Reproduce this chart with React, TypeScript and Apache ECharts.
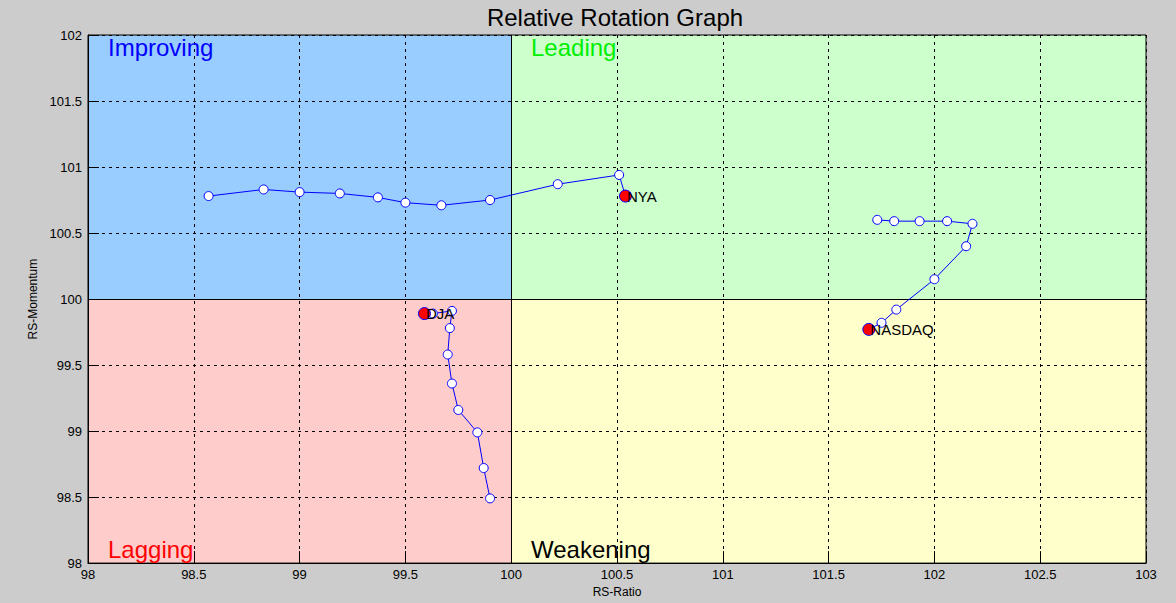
import React, { useEffect, useRef } from "react";
import * as echarts from "echarts";

const titleText = "Relative Rotation Graph";
const xAxisName = "RS-Ratio";
const yAxisName = "RS-Momentum";

const nyaRatio = [98.57, 98.83, 99.0, 99.19, 99.37, 99.5, 99.67, 99.9, 100.22, 100.51, 100.54];
const nyaMomentum = [100.78, 100.83, 100.81, 100.8, 100.77, 100.73, 100.71, 100.75, 100.87, 100.94, 100.78];

const nasdaqRatio = [101.73, 101.81, 101.93, 102.06, 102.18, 102.15, 102.0, 101.82, 101.75, 101.69];
const nasdaqMomentum = [100.6, 100.59, 100.59, 100.59, 100.57, 100.4, 100.15, 99.92, 99.82, 99.77];

const djaRatio = [99.9, 99.87, 99.84, 99.75, 99.72, 99.7, 99.71, 99.72, 99.63, 99.59];
const djaMomentum = [98.49, 98.72, 98.99, 99.16, 99.36, 99.58, 99.78, 99.91, 99.89, 99.89];

const seriesNames = ["NYA", "NASDAQ", "DJA"];

const FONT = "'Liberation Sans', Arial, sans-serif";

function buildSeries(name: string, xs: number[], ys: number[]) {
  const data = xs.map((x, i) => {
    if (i === xs.length - 1) {
      return {
        value: [x, ys[i]],
        symbolSize: 12,
        itemStyle: { color: "#ff0000", borderColor: "#0000ff", borderWidth: 1 },
        label: {
          show: true,
          formatter: name,
          position: "right",
          distance: -5,
          color: "#000",
          fontSize: 15,
          fontFamily: FONT,
        },
      };
    }
    return [x, ys[i]];
  });
  return {
    type: "line",
    name,
    data,
    z: 5,
    symbol: "circle",
    symbolSize: 9,
    showSymbol: true,
    lineStyle: { color: "#0000ff", width: 1 },
    itemStyle: { color: "#ffffff", borderColor: "#0000ff", borderWidth: 1 },
    emphasis: { disabled: true },
  };
}

export default function App() {
  const ref = useRef<HTMLDivElement>(null);
  useEffect(() => {
    if (!ref.current) return;
    const chart = echarts.init(ref.current, undefined, { renderer: "svg" });
    const quadStyle = (color: string) => ({ color, opacity: 1 });
    chart.setOption({
      animation: false,
      backgroundColor: "#cccccc",
      textStyle: { fontFamily: FONT },
      title: {
        text: titleText,
        left: 610,
        top: 0,
        textAlign: "center",
        textStyle: { fontSize: 24, fontWeight: "normal", color: "#000", fontFamily: FONT },
      },
      grid: {
        left: 88,
        top: 35,
        right: 30,
        bottom: 38,
        show: true,
        borderColor: "#000",
        borderWidth: 1,
        backgroundColor: "transparent",
      },
      xAxis: {
        type: "value",
        min: 98,
        max: 103,
        interval: 0.5,
        name: xAxisName,
        nameLocation: "middle",
        nameGap: 21,
        nameTextStyle: { fontSize: 12, color: "#000", fontFamily: FONT },
        axisLine: { show: true, lineStyle: { color: "#000", width: 1 } },
        axisTick: { show: true, inside: true, length: 12, lineStyle: { color: "#000" } },
        axisLabel: { color: "#000", fontSize: 13, margin: 5, fontFamily: FONT },
        splitLine: { show: true, lineStyle: { color: "#000", type: [3, 4], width: 1 } },
      },
      yAxis: {
        type: "value",
        min: 98,
        max: 102,
        interval: 0.5,
        name: yAxisName,
        nameLocation: "middle",
        nameGap: 45,
        nameTextStyle: { fontSize: 12, color: "#000", fontFamily: FONT },
        axisLine: { show: true, lineStyle: { color: "#000", width: 1 } },
        axisTick: { show: true, inside: true, length: 11, lineStyle: { color: "#000" } },
        axisLabel: { color: "#000", fontSize: 13, margin: 6, fontFamily: FONT },
        splitLine: { show: true, lineStyle: { color: "#000", type: [3, 4], width: 1 } },
      },
      graphic: [
        { type: "text", left: 108, top: 35, z: 10, style: { text: "Improving", fill: "#0000ff", fontSize: 24, fontFamily: FONT } },
        { type: "text", left: 531, top: 35, z: 10, style: { text: "Leading", fill: "#00ee00", fontSize: 24, fontFamily: FONT } },
        { type: "text", left: 108, top: 537, z: 10, style: { text: "Lagging", fill: "#ff0000", fontSize: 24, fontFamily: FONT } },
        { type: "text", left: 531, top: 537, z: 10, style: { text: "Weakening", fill: "#000000", fontSize: 24, fontFamily: FONT } },
      ],
      series: [
        {
          type: "line",
          name: "quadrants",
          data: [],
          z: -1,
          silent: true,
          markArea: {
            silent: true,
            z: -1,
            data: [
              [{ coord: [98, 100], itemStyle: quadStyle("#99ccff") }, { coord: [100, 102] }],
              [{ coord: [100, 100], itemStyle: quadStyle("#ccffcc") }, { coord: [103, 102] }],
              [{ coord: [98, 98], itemStyle: quadStyle("#ffcccc") }, { coord: [100, 100] }],
              [{ coord: [100, 98], itemStyle: quadStyle("#ffffcc") }, { coord: [103, 100] }],
            ],
          },
          markLine: {
            silent: true,
            symbol: "none",
            z: -1,
            label: { show: false },
            lineStyle: { color: "#000", type: "solid", width: 1 },
            data: [{ xAxis: 100 }, { yAxis: 100 }],
          },
        },
        buildSeries(seriesNames[0], nyaRatio, nyaMomentum),
        buildSeries(seriesNames[1], nasdaqRatio, nasdaqMomentum),
        buildSeries(seriesNames[2], djaRatio, djaMomentum),
      ],
    });
    return () => chart.dispose();
  }, []);
  return (
    <div
      ref={ref}
      style={{ position: "absolute", left: 0, top: 0, width: 1176, height: 603 }}
    />
  );
}
